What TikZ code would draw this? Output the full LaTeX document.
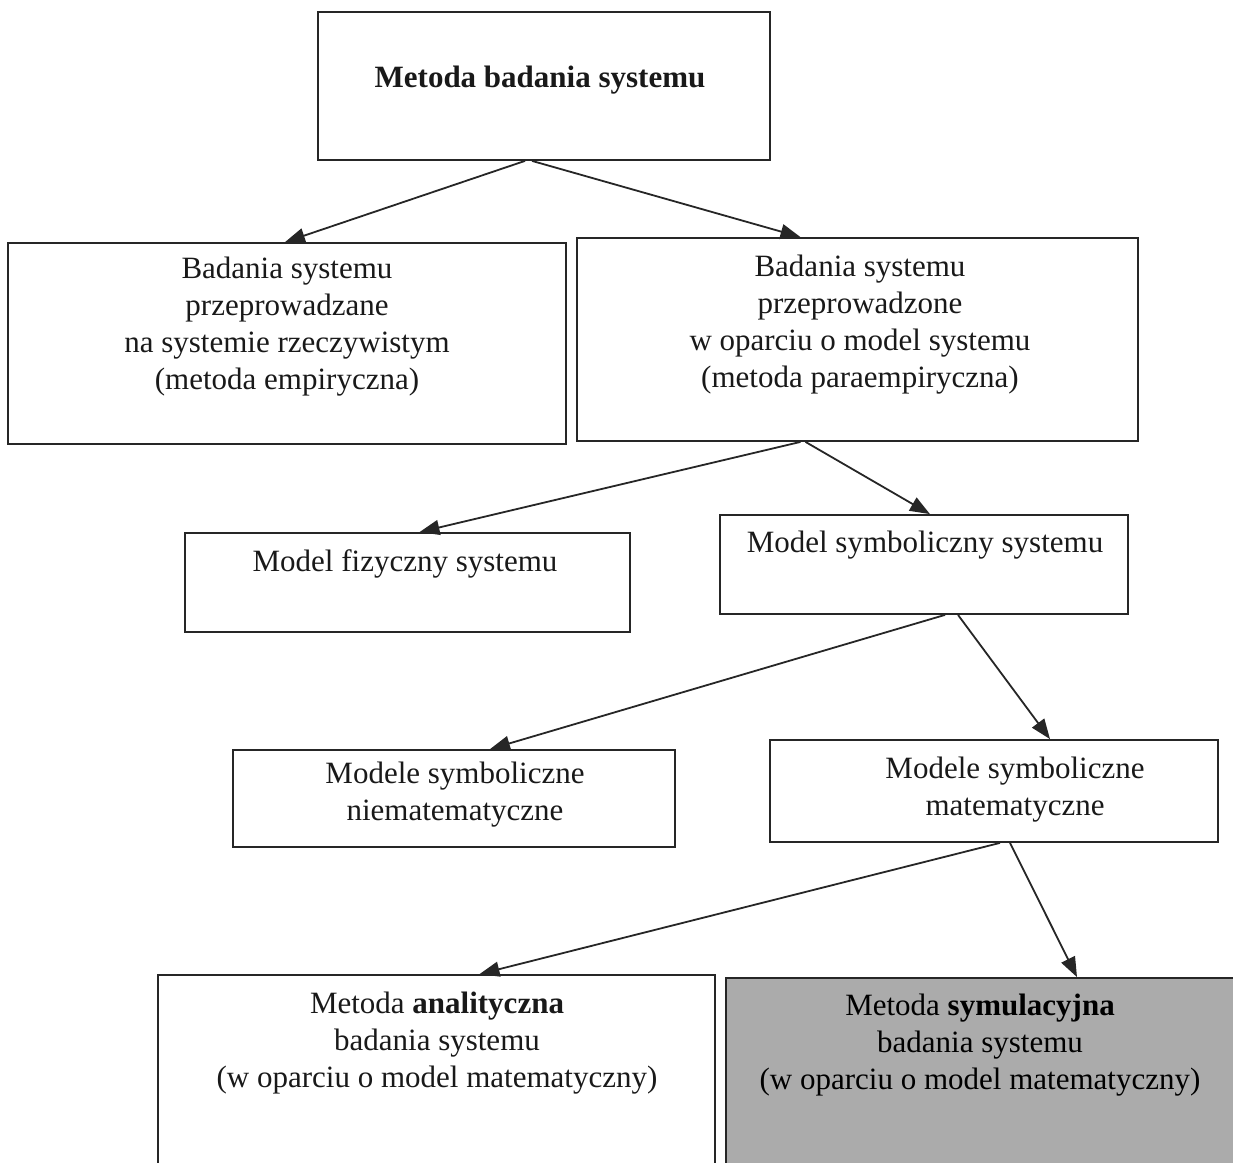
\documentclass[tikz,border=0pt]{standalone}
\usepackage{fontspec}
\setmainfont{Liberation Serif}
\usetikzlibrary{arrows.meta}
\begin{document}
\begin{tikzpicture}[x=1pt,y=-1pt,
  box/.style={draw=black!85, line width=1.8pt, rectangle, inner sep=0pt},
  txt/.style={align=center, font=\fontsize{31}{37}\selectfont, text=black!90, inner sep=0pt},
  link/.style={draw=black!85, line width=1.8pt, -{Triangle[length=20pt,width=15pt]}}]
\useasboundingbox (0,0) rectangle (1233,1162);
\clip (0,0) rectangle (1233,1162);

% boxes (centre, width, height)
\node[box, minimum width=452pt, minimum height=148pt] (top) at (544,86) {};
\node[box, minimum width=558pt, minimum height=201pt] (emp) at (287,343.5) {};
\node[box, minimum width=561pt, minimum height=203pt] (para) at (857.5,339.5) {};
\node[box, minimum width=445pt, minimum height=99pt] (fiz) at (407.5,582.5) {};
\node[box, minimum width=408pt, minimum height=99pt] (sym) at (924,564.5) {};
\node[box, minimum width=442pt, minimum height=97pt] (niemat) at (454,798.5) {};
\node[box, minimum width=448pt, minimum height=102pt] (mat) at (994,791) {};
\node[box, minimum width=557pt, minimum height=220pt] (anal) at (436.5,1085) {};
\node[box, fill=black!33, minimum width=520pt, minimum height=220pt] (symul) at (986,1088) {};

% labels
\node[txt] at (540,80) {\bfseries Metoda badania systemu};
\node[txt] at (287,327) {Badania systemu\\przeprowadzane\\na systemie rzeczywistym\\(metoda empiryczna)};
\node[txt] at (860,325) {Badania systemu\\przeprowadzone\\w oparciu o model systemu\\(metoda paraempiryczna)};
\node[txt] at (405,564) {Model fizyczny systemu};
\node[txt] at (925,545) {Model symboliczny systemu};
\node[txt] at (455,795) {Modele symboliczne\\niematematyczne};
\node[txt] at (1015,790) {Modele symboliczne\\matematyczne};
\node[txt] at (437,1043) {Metoda \textbf{analityczna}\\badania systemu\\(w oparciu o model matematyczny)};
\node[txt, text=black] at (980,1045) {Metoda \textbf{symulacyjna}\\badania systemu\\(w oparciu o model matematyczny)};

% connectors
\draw[link] ([xshift=-19pt]top.south) -- ([xshift=-2pt]emp.north);
\draw[link] ([xshift=-12pt]top.south) -- ([xshift=-57pt]para.north);
\draw[link] ([xshift=-57pt]para.south) -- ([xshift=12pt]fiz.north);
\draw[link] ([xshift=-52pt]para.south) -- ([xshift=6pt]sym.north);
\draw[link] ([xshift=21pt]sym.south) -- ([xshift=36pt]niemat.north);
\draw[link] ([xshift=34pt]sym.south) -- ([xshift=56pt]mat.north);
\draw[link] ([xshift=6pt]mat.south) -- ([xshift=43pt]anal.north);
\draw[link] ([xshift=16pt]mat.south) -- ([xshift=91pt]symul.north);
\end{tikzpicture}
\end{document}
